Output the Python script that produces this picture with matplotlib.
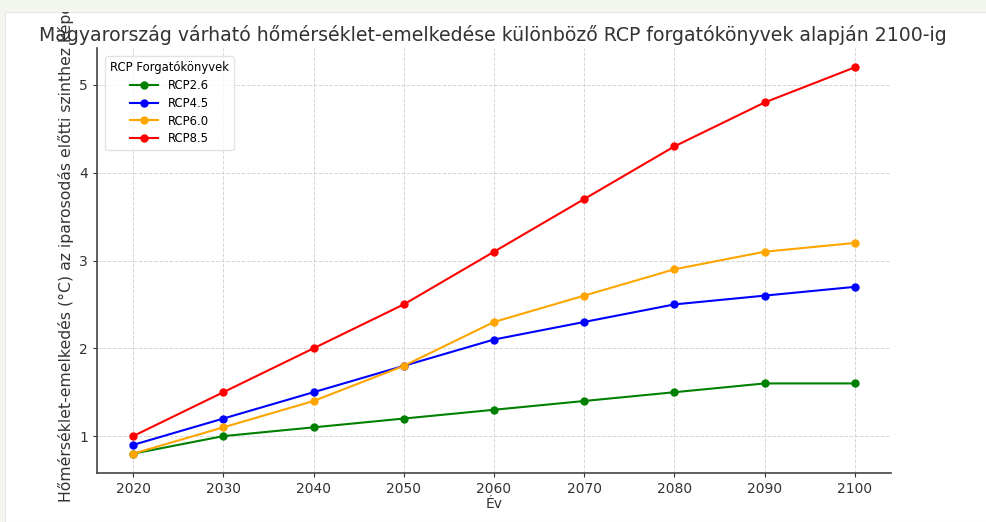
import numpy as np
import matplotlib.pyplot as plt
from matplotlib.patches import Rectangle
from matplotlib.transforms import Bbox, TransformedBbox

years = [2020, 2030, 2040, 2050, 2060, 2070, 2080, 2090, 2100]

rcp26 = [0.8, 1.0, 1.1, 1.2, 1.3, 1.4, 1.5, 1.6, 1.6]
rcp45 = [0.9, 1.2, 1.5, 1.8, 2.1, 2.3, 2.5, 2.6, 2.7]
rcp60 = [0.8, 1.1, 1.4, 1.8, 2.3, 2.6, 2.9, 3.1, 3.2]
rcp85 = [1.0, 1.5, 2.0, 2.5, 3.1, 3.7, 4.3, 4.8, 5.2]

series_names = ["RCP2.6", "RCP4.5", "RCP6.0", "RCP8.5"]
series_values = [rcp26, rcp45, rcp60, rcp85]
series_colors = ["green", "blue", "orange", "red"]

W, H = 986, 522

fig = plt.figure(figsize=(W / 100, H / 100), dpi=100)
fig.patch.set_facecolor("#f3f6ef")

# white panel of the screenshot
panel = Rectangle(
    (5 / W, 0),
    1,
    1 - 12 / H,
    transform=fig.transFigure,
    facecolor="white",
    edgecolor="#e6e6e6",
    linewidth=0.8,
    zorder=-10,
)
fig.patches.append(panel)

ax = fig.add_axes([97 / W, 1 - 473 / H, (891 - 97) / W, (473 - 48) / H])
ax.set_facecolor("none")

for name, values, color in zip(series_names, series_values, series_colors):
    ax.plot(
        years,
        values,
        marker="o",
        markersize=5,
        linewidth=1.5,
        color=color,
        label=name,
    )

ax.set_xticks(years)
ax.set_yticks([1, 2, 3, 4, 5])
ax.tick_params(labelsize=10, colors="#333333", length=3)

ax.grid(True, linestyle="--", color="#cccccc", linewidth=0.7, alpha=0.8)

for side in ["top", "right"]:
    ax.spines[side].set_visible(False)
for side in ["left", "bottom"]:
    ax.spines[side].set_color("#444444")
    ax.spines[side].set_linewidth(1.2)

ax.set_xlabel("Év", fontsize=10, color="#333333", labelpad=1)

# the screenshot cuts the top of the y label off at the panel edge
ylab = ax.set_ylabel(
    "Hőmérséklet-emelkedés (°C) az iparosodás előtti szinthez képest",
    fontsize=11.3,
    color="#333333",
)
ylab.set_horizontalalignment("left")
ax.yaxis.set_label_coords(-0.029, (473 - 502) / (473 - 48))
ylab.set_clip_box(TransformedBbox(Bbox([[0, 0], [1, 1 - 12 / H]]), fig.transFigure))
ylab.set_clip_on(True)

fig.text(
    0.5,
    1 - 35 / H,
    "Magyarország várható hőmérséklet-emelkedése különböző RCP forgatókönyvek alapján 2100-ig",
    ha="center",
    va="center",
    fontsize=13.6,
    color="#333333",
)

leg = ax.legend(
    title="RCP Forgatókönyvek",
    loc="upper left",
    fontsize=8.4,
    title_fontsize=8.4,
    handlelength=2.4,
    labelspacing=0.42,
    borderaxespad=0.7,
    frameon=True,
)
leg.get_frame().set_edgecolor("#dddddd")

fig.savefig("out.png", dpi=100, facecolor=fig.get_facecolor())
